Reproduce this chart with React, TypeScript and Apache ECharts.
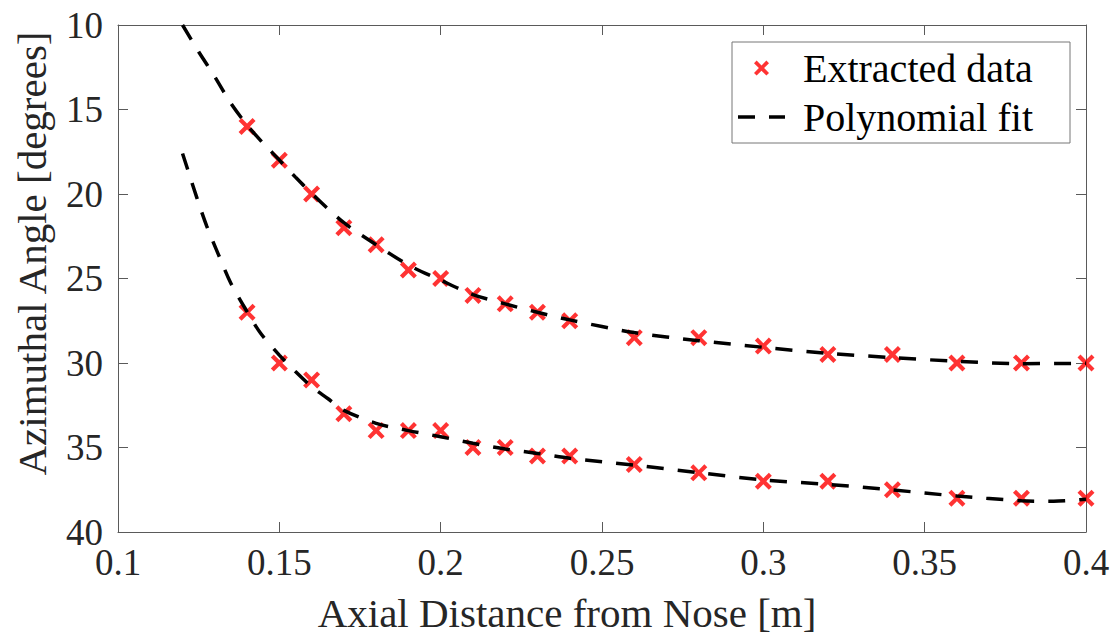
import React, { useEffect, useRef } from "react";
import * as echarts from "echarts";

// Measured x positions (m)
const xPoints = [0.14, 0.15, 0.16, 0.17, 0.18, 0.19, 0.2, 0.21, 0.22, 0.23, 0.24, 0.26, 0.28, 0.3, 0.32, 0.34, 0.36, 0.38, 0.4];
// Extracted data (degrees)
const upperPoints = [16, 18, 20, 22, 23, 24.5, 25, 26, 26.5, 27, 27.5, 28.5, 28.5, 29, 29.5, 29.5, 30, 30, 30];
const lowerPoints = [27, 30, 31, 33, 34, 34, 34, 35, 35, 35.5, 35.5, 36, 36.5, 37, 37, 37.5, 38, 38, 38];

// Polynomial fit curves
const fitUpperX = [0.12, 0.125, 0.13, 0.135, 0.14, 0.145, 0.15, 0.155, 0.16, 0.17, 0.18, 0.19, 0.2, 0.21, 0.22, 0.23, 0.24, 0.26, 0.28, 0.3, 0.32, 0.34, 0.36, 0.38, 0.4];
const fitUpperY = [10, 11.58, 13.06, 14.64, 15.92, 17.0, 17.99, 19.0, 19.96, 21.7, 23.0, 24.2, 25.1, 25.95, 26.5, 27.0, 27.45, 28.2, 28.68, 29.07, 29.43, 29.68, 29.9, 30.04, 30.02];
const fitLowerX = [0.12, 0.1244, 0.1275, 0.1311, 0.1349, 0.14, 0.1442, 0.15, 0.155, 0.16, 0.165, 0.17, 0.18, 0.19, 0.2, 0.21, 0.22, 0.23, 0.24, 0.26, 0.28, 0.3, 0.32, 0.34, 0.36, 0.38, 0.39, 0.4];
const fitLowerY = [17.6, 20.2, 21.9, 23.57, 25.25, 26.96, 28.24, 29.53, 30.51, 31.4, 32.1, 32.8, 33.57, 34.0, 34.36, 34.75, 35.09, 35.35, 35.64, 36.04, 36.49, 36.92, 37.18, 37.51, 37.87, 38.15, 38.18, 38.06];

// Axis ticks
const xTicks = [0.1, 0.15, 0.2, 0.25, 0.3, 0.35, 0.4];
const yTicks = [10, 15, 20, 25, 30, 35, 40];

const xName = "Axial Distance from Nose [m]";
const yName = "Azimuthal Angle [degrees]";
const seriesNames = ["Extracted data", "Polynomial fit"];

const FONT = "Liberation Serif";
const X_MARK =
  "path://M1.75,0 L5,3.25 L8.25,0 L10,1.75 L6.75,5 L10,8.25 L8.25,10 L5,6.75 L1.75,10 L0,8.25 L3.25,5 L0,1.75 Z";
const DASH_ICON = "path://M0,0 h17 v3.5 h-17 Z M31,0 h16 v3.5 h-16 Z";
const AXIS_COLOR = "#5a5a5a";

const zip = (xs: number[], ys: number[]) => xs.map((x, i) => [x, ys[i]]);

export default function App() {
  const ref = useRef<HTMLDivElement>(null);

  useEffect(() => {
    document.body.style.margin = "0";
    if (!ref.current) return;
    const chart = echarts.init(ref.current, undefined, { renderer: "svg" });

    const xMin = xTicks[0];
    const xMax = xTicks[xTicks.length - 1];
    const yMin = yTicks[0];
    const yMax = yTicks[yTicks.length - 1];

    const baseAxisLine = { show: true, onZero: false, lineStyle: { color: AXIS_COLOR, width: 1 } };
    const baseTick = { show: true, inside: true, length: 10, lineStyle: { color: AXIS_COLOR, width: 1 } };

    chart.setOption({
      animation: false,
      backgroundColor: "#ffffff",
      grid: { left: 118, right: 31, top: 25, bottom: 110, containLabel: false },
      xAxis: [
        {
          type: "value",
          position: "bottom",
          min: xMin,
          max: xMax,
          interval: 0.05,
          axisLine: baseAxisLine,
          axisTick: baseTick,
          splitLine: { show: false },
          axisLabel: {
            margin: 12,
            fontSize: 37,
            fontFamily: FONT,
            color: "#262626",
            formatter: (v: number) => String(Number(v.toFixed(2))),
          },
          name: xName,
          nameLocation: "middle",
          nameGap: 60,
          nameTextStyle: { fontFamily: FONT, fontSize: 41, color: "#262626", padding: [0, 70, 0, 0] },
        },
        {
          type: "value",
          position: "top",
          min: xMin,
          max: xMax,
          interval: 0.05,
          axisLine: baseAxisLine,
          axisTick: baseTick,
          splitLine: { show: false },
          axisLabel: { show: false },
        },
      ],
      yAxis: [
        {
          type: "value",
          position: "left",
          inverse: true,
          min: yMin,
          max: yMax,
          interval: 5,
          axisLine: baseAxisLine,
          axisTick: baseTick,
          splitLine: { show: false },
          axisLabel: { margin: 15, fontSize: 37, fontFamily: FONT, color: "#262626" },
          name: yName,
          nameLocation: "middle",
          nameRotate: 90,
          nameGap: 66,
          nameTextStyle: { fontFamily: FONT, fontSize: 41, color: "#262626", padding: [0, 0, 0, 50] },
        },
        {
          type: "value",
          position: "right",
          inverse: true,
          min: yMin,
          max: yMax,
          interval: 5,
          axisLine: baseAxisLine,
          axisTick: baseTick,
          splitLine: { show: false },
          axisLabel: { show: false },
        },
      ],
      legend: {
        orient: "vertical",
        left: 732,
        top: 42,
        padding: [6, 12, 6, 6],
        itemGap: 9,
        itemWidth: 47,
        itemHeight: 15,
        borderColor: "#777777",
        borderWidth: 1,
        borderRadius: 0,
        backgroundColor: "#ffffff",
        textStyle: {
          fontFamily: FONT,
          fontSize: 40,
          lineHeight: 40,
          color: "#000000",
          padding: [0, 0, 0, 13],
          width: 255,
        },
        data: [
          { name: seriesNames[0], icon: X_MARK, itemStyle: { color: "#ff0000" } },
          { name: seriesNames[1], icon: DASH_ICON, itemStyle: { color: "#000000" } },
        ],
      },
      series: [
        {
          name: seriesNames[0],
          type: "scatter",
          symbol: X_MARK,
          symbolSize: 17,
          itemStyle: { color: "#ff0000" },
          data: zip(xPoints, upperPoints),
          z: 2,
        },
        {
          name: seriesNames[0],
          type: "scatter",
          symbol: X_MARK,
          symbolSize: 17,
          itemStyle: { color: "#ff0000" },
          data: zip(xPoints, lowerPoints),
          z: 2,
        },
        {
          name: seriesNames[1],
          type: "line",
          showSymbol: false,
          symbol: "none",
          smooth: 0.3,
          lineStyle: { color: "#000000", width: 3.5, type: [17, 14] },
          itemStyle: { color: "#000000" },
          data: zip(fitUpperX, fitUpperY),
          z: 3,
        },
        {
          name: seriesNames[1],
          type: "line",
          showSymbol: false,
          symbol: "none",
          smooth: 0.3,
          lineStyle: { color: "#000000", width: 3.5, type: [17, 14] },
          itemStyle: { color: "#000000" },
          data: zip(fitLowerX, fitLowerY),
          z: 3,
        },
      ],
    });

    return () => chart.dispose();
  }, []);

  return <div ref={ref} style={{ width: 1117, height: 642 }} />;
}
